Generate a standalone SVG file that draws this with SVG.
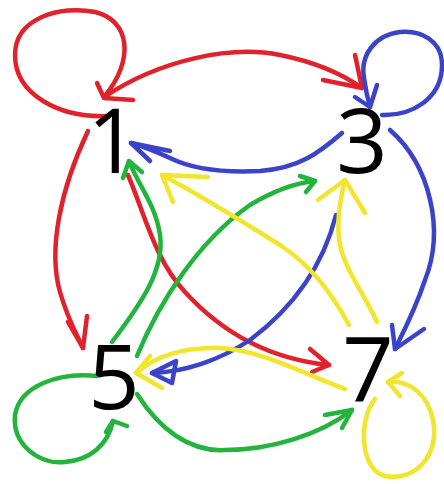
<svg xmlns="http://www.w3.org/2000/svg" width="444" height="484" viewBox="0 0 444 484">
<style>
.e{fill:none;stroke-width:4.5;stroke-linecap:round;stroke-linejoin:round}
.r{stroke:#e0222c}
.b{stroke:#3b44c8}
.g{stroke:#22b43c}
.y{stroke:#f2e62c}
.lbl{font-family:"Open Sans","Liberation Sans",Arial,sans-serif;font-weight:400;font-size:90px;fill:#000;text-anchor:middle}
</style>
<rect width="444" height="484" fill="#fff"/>
<g id="connectors">
  <!-- red -->
  <path class="e r" d="M108,116 C60,118 15,95 15,55 C15,18 60,5 95,12 C130,20 135,60 104,97"/>
  <path class="e r" d="M104,97 C160,60 230,45 280,55 C320,63 345,76 362,88"/>
  <polyline class="e r" points="97,83 104,98 133,100"/>
  <polyline class="e r" points="355,55 362,88 323,80"/>
  <path class="e r" d="M88,131 C60,190 48,250 60,292 C68,320 77,335 83,348"/>
  <polyline class="e r" points="68,322 83,348 87,316"/>
  <path class="e r" d="M128,175 C145,215 155,260 185,292 C215,325 260,358 329,365"/>
  <polyline class="e r" points="310,349 329,365 312,372"/>
  <!-- blue -->
  <path class="e b" d="M382,115 C410,116 442,100 442,65 C442,40 420,30 400,32 C375,35 360,55 364,78 C366,92 368,100 370,107"/>
  <polyline class="e b" points="377,85 370,107 355,97"/>
  <path class="e b" d="M342,133 C320,152 300,168 260,171 C220,173 190,168 170,158 C155,151 142,146 131,143"/>
  <polyline class="e b" points="170,151 131,143 150,161"/>
  <path class="e b" d="M390,130 C430,165 445,230 425,280 C415,310 402,335 395,349"/>
  <polyline class="e b" points="392,325 395,349 424,329"/>
  <path class="e b" d="M336,215 C322,270 290,310 250,340 C220,360 185,372 152,373"/>
  <polygon class="e b" fill="#3b44c8" points="152,373 176,361 172,383"/>
  <!-- green -->
  <path class="e g" d="M112,342 C140,305 165,270 160,235 C156,205 138,185 129,161"/>
  <polyline class="e g" points="123,178 129,161 142,172"/>
  <path class="e g" d="M137,356 C160,300 200,240 250,205 C275,190 295,183 315,181"/>
  <polyline class="e g" points="300,176 315,181 306,192"/>
  <path class="e g" d="M97,376 C60,372 20,385 15,415 C12,445 40,465 65,462 C90,460 108,445 113,421"/>
  <polyline class="e g" points="106,432 113,421 127,426"/>
  <path class="e g" d="M137,394 C160,430 190,452 225,450 C270,450 320,435 352,410"/>
  <polyline class="e g" points="325,415 352,410 342,428"/>
  <!-- yellow -->
  <path class="e y" d="M349,325 C330,290 310,265 280,245 C240,220 200,195 162,175"/>
  <polyline class="e y" points="208,177 162,175 173,202"/>
  <path class="e y" d="M377,322 C365,295 345,270 340,245 C336,225 340,200 345,180"/>
  <polyline class="e y" points="318,200 345,180 365,213"/>
  <path class="e y" d="M345,389 C300,372 260,350 220,348 C190,347 160,352 136,373"/>
  <polyline class="e y" points="150,356 136,373 162,388"/>
  <path class="e y" d="M375,399 C358,420 360,470 385,476 C415,482 440,455 433,420 C428,395 410,380 388,382"/>
  <polyline class="e y" points="402,373 388,382 400,396"/>
</g>
<g id="n1"><text class="lbl" x="113" y="173">1</text></g>
<g id="n3"><text class="lbl" x="362" y="173">3</text></g>
<g id="n5"><text class="lbl" x="114" y="409">5</text></g>
<g id="n7"><text class="lbl" x="368" y="402">7</text></g>
</svg>
